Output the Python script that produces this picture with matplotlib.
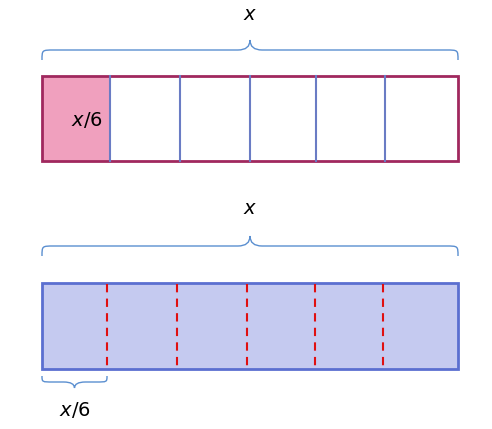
import matplotlib
matplotlib.use('Agg')
import matplotlib.pyplot as plt
from matplotlib.path import Path
from matplotlib.patches import PathPatch, Rectangle

# cell edges (pixel units of the diagram)
top_edges = [42, 110, 180, 250, 316, 385, 458]
bottom_edges = [42, 107, 177, 247, 315, 383, 458]
whole_label = "$x$"
part_label = "$x$/6"

BRACE = '#5b8fd0'


def brace(ax, x0, x1, y, h):
    # curly brace from x0 to x1, ends at y, tip at y - h
    xm = (x0 + x1) / 2
    ym = y - h / 2
    q = min(12, (x1 - x0) / 6)
    verts = [(x0, y), (x0, ym), (x0, ym), (x0 + q, ym),
             (xm - q, ym), (xm, ym), (xm, y - h),
             (xm, ym), (xm + q, ym), (x1 - q, ym),
             (x1, ym), (x1, ym), (x1, y)]
    codes = [Path.MOVETO, Path.CURVE4, Path.CURVE4, Path.CURVE4,
             Path.LINETO, Path.CURVE3, Path.CURVE3,
             Path.CURVE3, Path.CURVE3, Path.LINETO,
             Path.CURVE4, Path.CURVE4, Path.CURVE4]
    ax.add_patch(PathPatch(Path(verts, codes), fill=False, ec=BRACE, lw=1))


fig = plt.figure(figsize=(4.92, 4.29), dpi=100)
ax = fig.add_axes([0, 0, 1, 1])
ax.set_xlim(0, 492)
ax.set_ylim(429, 0)
ax.axis('off')

# top bar
ax.add_patch(Rectangle((top_edges[0], 76), top_edges[1] - top_edges[0], 85,
                       fc='#f0a0be', ec='none'))
for xe in top_edges[1:-1]:
    ax.plot([xe, xe], [76, 161], color='#6a7cc4', lw=1.5)
ax.add_patch(Rectangle((top_edges[0], 76), top_edges[-1] - top_edges[0], 85,
                       fc='none', ec='#a0285e', lw=2))
ax.text(87, 120, part_label, fontsize=14, ha='center', va='center')
brace(ax, 42, 458, 60, 20)
ax.text(250, 15, whole_label, fontsize=14, ha='center', va='center')

# bottom bar
ax.add_patch(Rectangle((bottom_edges[0], 283), bottom_edges[-1] - bottom_edges[0], 86,
                       fc='#c5caf0', ec='#5b6fd0', lw=2))
for xe in bottom_edges[1:-1]:
    ax.plot([xe, xe], [284, 368], color='#e01010', lw=1.5, ls=(0, (4, 3)))
brace(ax, 42, 458, 256, 20)
ax.text(250, 208, whole_label, fontsize=14, ha='center', va='center')

# small brace under first part (opens upward)
brace(ax, 42, 107, 376, -12)
ax.text(75, 410, part_label, fontsize=14, ha='center', va='center')

fig.savefig('out.png', dpi=100)
